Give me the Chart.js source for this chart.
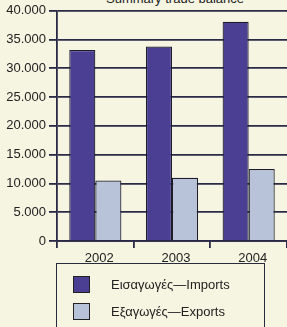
<!DOCTYPE html>
<html>
<head>
<meta charset="utf-8">
<script src="https://cdn.jsdelivr.net/npm/chart.js@4/dist/chart.umd.min.js"></script>
<style>
    body {
        margin: 0;
        width: 287px;
        height: 327px;
        overflow: hidden;
        background: #f6f5e2;
        font-family: "Liberation Sans", Arial, sans-serif;
        color: #222;
        position: relative;
    }
    .title {
        position: absolute;
        left: 106px;
        top: -9px;
        font-size: 13px;
        line-height: 15px;
        white-space: nowrap;
    }
    .chart-box {
        position: absolute;
        left: 0;
        top: 0;
        width: 287px;
        height: 265px;
    }
    .legend {
        position: absolute;
        left: 56px;
        top: 263px;
        width: 209px;
        height: 80px;
        box-sizing: border-box;
        border: 1.5px solid #2b2b40;
    }
    .legend-item {
        position: absolute;
        left: 16px;
        font-size: 13px;
        line-height: 17px;
        white-space: nowrap;
    }
    .legend-item span.swatch {
        display: inline-block;
        width: 17px;
        height: 17px;
        border: 1px solid #222;
        box-sizing: border-box;
        vertical-align: top;
        margin-right: 21px;
    }
</style>
</head>
<body>
<div class="title">Summary trade balance</div>
<div class="chart-box"><canvas id="tradeChart"></canvas></div>
<div class="legend" id="legend"></div>

<script>
// Data
const years = ['2002', '2003', '2004'];
const imports = [33200, 33800, 38100];
const exports = [10500, 11000, 12500];
const seriesNames = ['Εισαγωγές—Imports', 'Εξαγωγές—Exports'];
const seriesColors = ['#4a3f93', '#b8c3d9'];

const lineColor = '#2a2a46';

// Legend (html)
const legend = document.getElementById('legend');
seriesNames.forEach((name, i) => {
    const item = document.createElement('div');
    item.className = 'legend-item';
    item.style.top = (12 + i * 27) + 'px';
    item.innerHTML = '<span class="swatch" style="background:' + seriesColors[i] + '"></span>' + name;
    legend.appendChild(item);
});

// Chart
const ctx = document.getElementById('tradeChart').getContext('2d');
new Chart(ctx, {
    type: 'bar',
    data: {
        labels: years,
        datasets: [
            {
                label: seriesNames[0],
                data: imports,
                backgroundColor: seriesColors[0],
                borderColor: '#1c1c2a',
                borderWidth: 1.2
            },
            {
                label: seriesNames[1],
                data: exports,
                backgroundColor: seriesColors[1],
                borderColor: '#1c1c2a',
                borderWidth: 1.2
            }
        ]
    },
    options: {
        responsive: true,
        maintainAspectRatio: false,
        animation: false,
        layout: {
            padding: { top: 3, right: 0, bottom: 0, left: 0 }
        },
        datasets: {
            bar: {
                categoryPercentage: 0.68,
                barPercentage: 1.0
            }
        },
        plugins: {
            legend: { display: false },
            tooltip: { enabled: false }
        },
        scales: {
            y: {
                min: 0,
                max: 40000,
                afterFit: scale => { scale.width = 57; },
                ticks: {
                    stepSize: 5000,
                    padding: 3,
                    color: '#222',
                    font: { family: '"Liberation Sans", Arial, sans-serif', size: 13 },
                    callback: v => v === 0 ? '0' : (v / 1000).toFixed(3)
                },
                grid: {
                    color: lineColor,
                    lineWidth: 1.8,
                    tickLength: 8
                },
                border: {
                    display: true,
                    color: lineColor,
                    width: 1.8
                }
            },
            x: {
                afterFit: scale => { scale.height = 24; },
                ticks: {
                    padding: 3,
                    labelOffset: 4,
                    color: '#222',
                    font: { family: '"Liberation Sans", Arial, sans-serif', size: 13 }
                },
                grid: {
                    drawOnChartArea: false,
                    color: lineColor,
                    lineWidth: 1.8,
                    tickLength: 7
                },
                border: {
                    display: true,
                    color: lineColor,
                    width: 1.8
                }
            }
        }
    }
});
</script>
</body>
</html>
